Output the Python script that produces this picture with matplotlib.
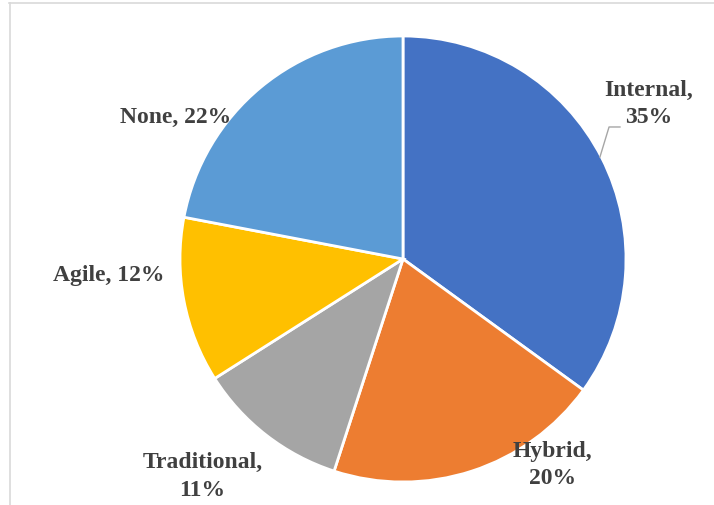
import matplotlib.pyplot as plt
from matplotlib.lines import Line2D

# Share of respondents by approach
categories = ['Internal', 'Hybrid', 'Traditional', 'Agile', 'None']
shares = [35, 20, 11, 12, 22]
colors = ['#4472C4', '#ED7D31', '#A5A5A5', '#FFC000', '#5B9BD5']
label_text = ['Internal,\n35%', 'Hybrid,\n20%', 'Traditional,\n11%', 'Agile, 12%', 'None, 22%']
# label centres, in units of the pie radius
label_pos = [(1.10, 0.70), (0.67, -0.92), (-0.90, -0.97), (-1.32, -0.07), (-1.02, 0.64)]

W, H = 714, 506
fig = plt.figure(figsize=(W / 100, H / 100), dpi=100)
plt.rcParams['font.family'] = ['Liberation Serif', 'DejaVu Serif']

# light frame around the chart area
fig.add_artist(Line2D([9 / W, 1], [1 - 4 / H, 1 - 4 / H], color='#d9d9d9', lw=1.2, transform=fig.transFigure))
fig.add_artist(Line2D([9.5 / W, 9.5 / W], [0, 1 - 4 / H], color='#d9d9d9', lw=1.2, transform=fig.transFigure))

cx, cy, r = 403, 260, 223
ax = fig.add_axes([(cx - r) / W, (H - cy - r) / H, 2 * r / W, 2 * r / H])
ax.pie(shares, colors=colors, startangle=90, counterclock=False, radius=1,
       wedgeprops=dict(edgecolor='white', linewidth=2))
ax.set_xlim(-1, 1)
ax.set_ylim(-1, 1)
ax.set_aspect('equal')
ax.axis('off')

for txt, (x, y) in zip(label_text, label_pos):
    ax.text(x, y, txt, ha='center', va='center', multialignment='center',
            fontsize=17, fontweight='bold', color='#404040', linespacing=1.4,
            clip_on=False, zorder=5)

# leader line for the Internal label
ax.plot([0.883, 0.924, 0.973], [0.457, 0.592, 0.592], color='#a6a6a6', lw=1.0, clip_on=False)

fig.savefig('out.png', dpi=100)
